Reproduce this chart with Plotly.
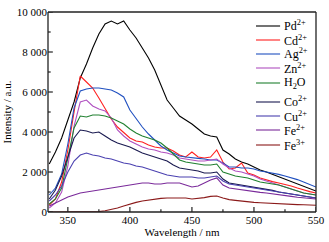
import plotly.graph_objects as go

wavelength = [335, 340, 345, 350, 355, 360, 365, 370, 375, 380, 385, 390, 395, 400, 405, 410, 415, 420,
              425, 430, 435, 440, 445, 450, 455, 460, 465, 470, 475, 480, 485, 490, 495, 500, 505, 510,
              515, 520, 525, 530, 535, 540, 545, 550]

pd2 = [2400, 3000, 3700, 4600, 5500, 6700, 7400, 8200, 8900, 9400, 9550, 9400, 9550, 9100, 8700, 8200,
       7700, 7100, 6300, 5600, 5200, 4800, 4600, 4400, 4150, 3900, 3800, 3750, 3100, 2900, 2650, 2500,
       2400, 2250, 2100, 2000, 1880, 1750, 1620, 1500, 1380, 1250, 1150, 1050]
cd2 = [350, 650, 1500, 3100, 5000, 6800, 6500, 6200, 5700, 5200, 4650, 4250, 3950, 3700, 3550, 3500,
       3350, 3250, 3200, 3200, 3050, 2850, 2750, 3000, 2750, 2700, 2750, 3100, 2500, 2150, 2200, 2450,
       1950, 1850, 1700, 1600, 1520, 1450, 1380, 1300, 1200, 1100, 1020, 950]
ag2 = [850, 1200, 1900, 3400, 5200, 6050, 6150, 6200, 6200, 6150, 6100, 5950, 5750, 5100, 4650, 4250,
       3900, 3600, 3300, 3100, 2950, 2800, 2750, 2700, 2680, 2650, 2600, 2600, 2450, 2250, 2250, 2200,
       2200, 2150, 2050, 2000, 1950, 1880, 1800, 1720, 1620, 1500, 1380, 1250]
zn2 = [200, 450, 1000, 2300, 4300, 5500, 5600, 5300, 5150, 5050, 4700, 4100, 3800, 3550, 3400, 3250,
       3150, 3100, 3000, 2950, 2850, 2700, 2650, 2600, 2550, 2550, 2600, 2650, 2400, 2200, 2050, 2000,
       1900, 1800, 1650, 1550, 1450, 1350, 1250, 1150, 1050, 950, 900, 850]
h2o = [400, 650, 1200, 2700, 4200, 4800, 4750, 4850, 4850, 4800, 4700, 4550, 4400, 4150, 3950, 3800,
       3700, 3600, 3450, 3200, 2900, 2600, 2500, 2450, 2400, 2350, 2350, 2400, 2000, 1900, 1800, 1750,
       1700, 1600, 1500, 1450, 1400, 1350, 1250, 1150, 1050, 950, 900, 850]
co2 = [650, 1100, 1800, 2800, 3700, 4100, 4050, 3950, 4000, 3800, 3600, 3450, 3350, 3250, 3100, 2950,
       2850, 2750, 2650, 2550, 2350, 2200, 2150, 2100, 2050, 1950, 1950, 2000, 1650, 1450, 1400, 1350,
       1300, 1250, 1200, 1150, 1080, 1000, 950, 900, 850, 800, 750, 700]
cu2 = [550, 850, 1300, 2000, 2550, 2850, 2950, 2850, 2800, 2700, 2650, 2550, 2450, 2400, 2300, 2250,
       2150, 2050, 1950, 1850, 1800, 1750, 1750, 1750, 1700, 1700, 1750, 1800, 1550, 1400, 1350, 1300,
       1250, 1200, 1150, 1100, 1050, 1000, 950, 900, 850, 800, 750, 700]
fe2 = [300, 450, 600, 750, 850, 950, 1000, 1050, 1100, 1150, 1200, 1250, 1300, 1350, 1400, 1450,
       1450, 1400, 1400, 1450, 1450, 1450, 1350, 1250, 1300, 1450, 1600, 1700, 1350, 1200, 1150, 1100,
       1050, 1000, 980, 950, 900, 850, 800, 780, 740, 700, 670, 650]
fe3 = [0, 0, 0, 0, 0, 0, 0, 0, 20, 60, 120, 200, 300, 400, 480, 550, 600, 650, 680, 700, 700, 720,
       700, 650, 680, 720, 780, 800, 700, 620, 580, 540, 500, 480, 460, 440, 420, 400, 390, 380, 370,
       360, 350, 340]

names = ["Pd<sup>2+</sup>", "Cd<sup>2+</sup>", "Ag<sup>2+</sup>", "Zn<sup>2+</sup>", "H<sub>2</sub>O",
         "Co<sup>2+</sup>", "Cu<sup>2+</sup>", "Fe<sup>2+</sup>", "Fe<sup>3+</sup>"]
series = [pd2, cd2, ag2, zn2, h2o, co2, cu2, fe2, fe3]
colors = ["#000000", "#ff2020", "#2050c0", "#b050c0", "#208030", "#1a1a50", "#4a40b0", "#7a2a9a", "#8b1a1a"]

y_ticks = [0, 2000, 4000, 6000, 8000, 10000]
y_tick_text = ["0", "2 000", "4 000", "6 000", "8 000", "10 000"]
x_ticks = [350, 400, 450, 500, 550]
x_minor = [375, 425, 475, 525]
y_minor = [1000, 3000, 5000, 7000, 9000]

# legend row positions (fraction of plot height, from bottom)
legend_rows = [0.93, 0.86, 0.79, 0.72, 0.645, 0.55, 0.48, 0.41, 0.335]

fig = go.Figure()
for n, s, c in zip(names, series, colors):
    fig.add_trace(go.Scatter(x=wavelength, y=s, name=n, mode="lines", showlegend=False,
                             line=dict(color=c, width=1.1)))

font_family = "Liberation Serif, Times New Roman, serif"
for n, c, ry in zip(names, colors, legend_rows):
    fig.add_shape(type="line", xref="x domain", yref="y domain", x0=0.776, x1=0.866, y0=ry, y1=ry,
                  line=dict(color=c, width=1.1))
    fig.add_annotation(xref="x domain", yref="y domain", x=0.873, y=ry, text=n, showarrow=False,
                       xanchor="left", yanchor="middle", font=dict(family=font_family, size=12))

# frame (paper refs are not clipped to the plot area)
frame = dict(color="#222222", width=1.3)
for x0, y0, x1, y1 in [(0, 0, 1, 0), (0, 1, 1, 1), (0, 0, 0, 1), (1, 0, 1, 1)]:
    fig.add_shape(type="line", xref="paper", yref="paper", x0=x0, y0=y0, x1=x1, y1=y1,
                  line=frame, layer="above")
# tick marks (inside), bottom and left
tick_line = dict(color="#222222", width=1.2)
for v in x_ticks:
    fig.add_shape(type="line", xref="x", yref="paper", x0=v, x1=v, y0=0, y1=0.025, line=tick_line)
for v in x_minor:
    fig.add_shape(type="line", xref="x", yref="paper", x0=v, x1=v, y0=0, y1=0.014, line=tick_line)
for v in y_ticks:
    fig.add_shape(type="line", xref="paper", yref="y", x0=0, x1=0.018, y0=v, y1=v, line=tick_line)
for v in y_minor:
    fig.add_shape(type="line", xref="paper", yref="y", x0=0, x1=0.010, y0=v, y1=v, line=tick_line)

fig.update_layout(
    width=329, height=242, autosize=False,
    margin=dict(l=48, r=13, t=12, b=30, autoexpand=False),
    paper_bgcolor="white", plot_bgcolor="white",
    font=dict(family=font_family, size=11, color="black"),
    showlegend=False,
    xaxis=dict(range=[334, 550], tickvals=x_ticks, ticks="", showline=False, showgrid=False,
               zeroline=False, automargin=False,
               title=dict(text="Wavelength / nm", standoff=2, font=dict(size=11)),
               tickfont=dict(size=11)),
    yaxis=dict(range=[0, 10000], tickvals=y_ticks, ticktext=y_tick_text, ticks="", automargin=False,
               showline=False, showgrid=False, zeroline=False,
               title=dict(text="Intensity / a.u.", standoff=2, font=dict(size=11)),
               tickfont=dict(size=11)),
)

post = "document.body.style.margin='0';document.body.style.overflow='hidden';"
fig.write_html("out.html", config={"displayModeBar": False}, post_script=post)
